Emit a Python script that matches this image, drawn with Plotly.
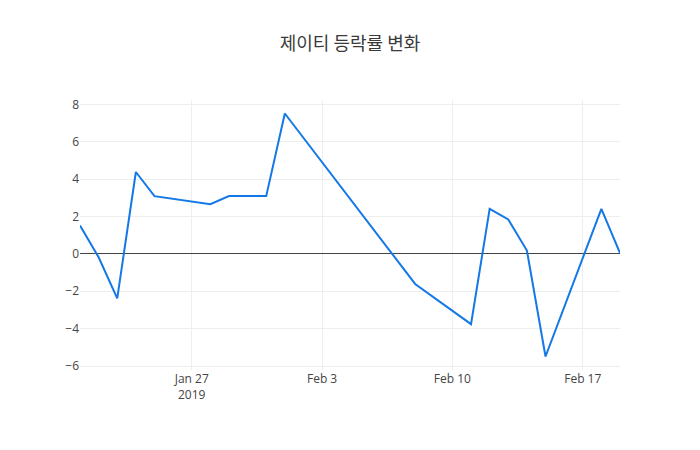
import plotly.graph_objects as go

dates = ["2019-01-21", "2019-01-22", "2019-01-23", "2019-01-24", "2019-01-25",
         "2019-01-28", "2019-01-29", "2019-01-30", "2019-01-31", "2019-02-01",
         "2019-02-08", "2019-02-11", "2019-02-12", "2019-02-13", "2019-02-14",
         "2019-02-15", "2019-02-18", "2019-02-19"]
rates = [1.52, -0.18, -2.38, 4.38, 3.09,
         2.66, 3.09, 3.09, 3.09, 7.51,
         -1.61, -3.76, 2.41, 1.84, 0.18,
         -5.49, 2.41, 0.04]

fig = go.Figure()
fig.add_trace(go.Scatter(
    x=dates,
    y=rates,
    mode="lines",
    line=dict(color="#1478e6", width=2),
))
# page body has an 8px margin, so the figure is sized to sit inside it
fig.update_layout(
    template="none",
    width=684, height=434,
    title=dict(text="제이티 등락률 변화", x=0.5, y=1 - 36 / 434, yanchor="middle",
               font=dict(size=18, color="#3a3a3a",
                         family="Noto Sans CJK KR, Open Sans")),
    font=dict(family="Open Sans, Noto Sans CJK KR", size=12, color="#444"),
    margin=dict(l=72, r=72, t=92, b=72),
    paper_bgcolor="white",
    plot_bgcolor="white",
    showlegend=False,
    xaxis=dict(gridcolor="#eee", showline=False, zeroline=False, ticks=""),
    yaxis=dict(gridcolor="#eee", zeroline=True, zerolinecolor="#444", zerolinewidth=1,
               showline=False, ticks="", dtick=2),
)
fig.write_html("out.html")
